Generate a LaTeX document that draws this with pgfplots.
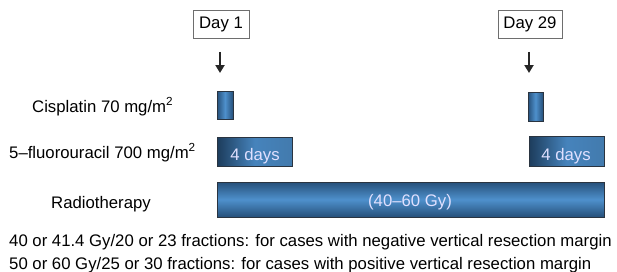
\documentclass[border=0pt]{standalone}
\usepackage{pgfplots}
\pgfplotsset{compat=1.18}
\usepackage{fontspec}
\setmainfont{Liberation Sans}
\usetikzlibrary{arrows.meta}
\definecolor{bardark}{HTML}{26507A}
\definecolor{barmid}{HTML}{4E90CC}
\definecolor{baredge}{HTML}{2A3440}
\definecolor{boxedge}{HTML}{6E6E6E}
\begin{document}
\fontsize{16.8}{23}\selectfont
\begin{tikzpicture}[every node/.style={font=\fontsize{16.8}{23}\selectfont}]
\useasboundingbox[fill=white] (0,0) rectangle (617bp,272bp);
\begin{axis}[
  scale only axis, width=617bp, height=272bp,
  xmin=0, xmax=617, ymin=0, ymax=272, y dir=reverse,
  hide axis, clip=false,
]
% Day boxes
\node[draw=boxedge, line width=0.9pt, minimum width=56bp, minimum height=28bp, inner sep=0pt, font=\fontsize{16.8}{23}\selectfont] at (axis cs:221,24) {Day 1};
\node[draw=boxedge, line width=0.9pt, minimum width=64bp, minimum height=28bp, inner sep=0pt, font=\fontsize{16.8}{23}\selectfont] at (axis cs:530,24) {Day 29};
% arrows
\addplot[black!85, line width=2.2pt, -{Triangle[length=8pt,width=9pt]}] coordinates {(220,52) (220,73)};
\addplot[black!85, line width=2.2pt, -{Triangle[length=8pt,width=9pt]}] coordinates {(529,52) (529,73)};
% Cisplatin bars
\addplot[draw=baredge, line width=0.7pt, left color=bardark, right color=bardark, middle color=barmid] coordinates {(217,91) (233,91) (233,119) (217,119)} -- cycle;
\addplot[draw=baredge, line width=0.7pt, left color=bardark, right color=bardark, middle color=barmid] coordinates {(528,92) (543,92) (543,121) (528,121)} -- cycle;
% 5-FU bars
\addplot[draw=baredge, line width=0.7pt, left color=bardark!75!black, right color=barmid!85!black, middle color=barmid!80!bardark] coordinates {(217,137) (292,137) (292,166) (217,166)} -- cycle;
\addplot[draw=baredge, line width=0.7pt, left color=bardark!75!black, right color=barmid!85!black, middle color=barmid!80!bardark] coordinates {(529,136) (604,136) (604,166) (529,166)} -- cycle;
% Radiotherapy bar
\addplot[draw=baredge, line width=0.7pt, top color=bardark, bottom color=bardark, middle color=barmid] coordinates {(217,182) (604,182) (604,217) (217,217)} -- cycle;
% texts in bars
\node[text=white!88!blue, anchor=base, font=\fontsize{16.8}{23}\selectfont] at (axis cs:255,160) {4 days};
\node[text=white!88!blue, anchor=base, font=\fontsize{16.8}{23}\selectfont] at (axis cs:566,160) {4 days};
\node[text=white!88!blue, anchor=base, font=\fontsize{16.8}{23}\selectfont] at (axis cs:410,206) {(40–60 Gy)};
% row labels
\node[anchor=base west, inner sep=0pt, font=\fontsize{16.8}{23}\selectfont] at (axis cs:32,112) {Cisplatin 70 mg/m\textsuperscript{2}};
\node[anchor=base west, inner sep=0pt, font=\fontsize{16.8}{23}\selectfont] at (axis cs:9,158) {5–fluorouracil 700 mg/m\textsuperscript{2}};
\node[anchor=base west, inner sep=0pt, font=\fontsize{16.8}{23}\selectfont] at (axis cs:51,208) {Radiotherapy};
% notes
\node[anchor=base west, inner sep=0pt, font=\fontsize{16.8}{23}\selectfont] at (axis cs:9,246) {40 or 41.4 Gy/20 or 23 fractions: for cases with negative vertical resection margin};
\node[anchor=base west, inner sep=0pt, font=\fontsize{16.8}{23}\selectfont] at (axis cs:9,269) {50 or 60 Gy/25 or 30 fractions: for cases with positive vertical resection margin};
\end{axis}
\end{tikzpicture}
\end{document}
